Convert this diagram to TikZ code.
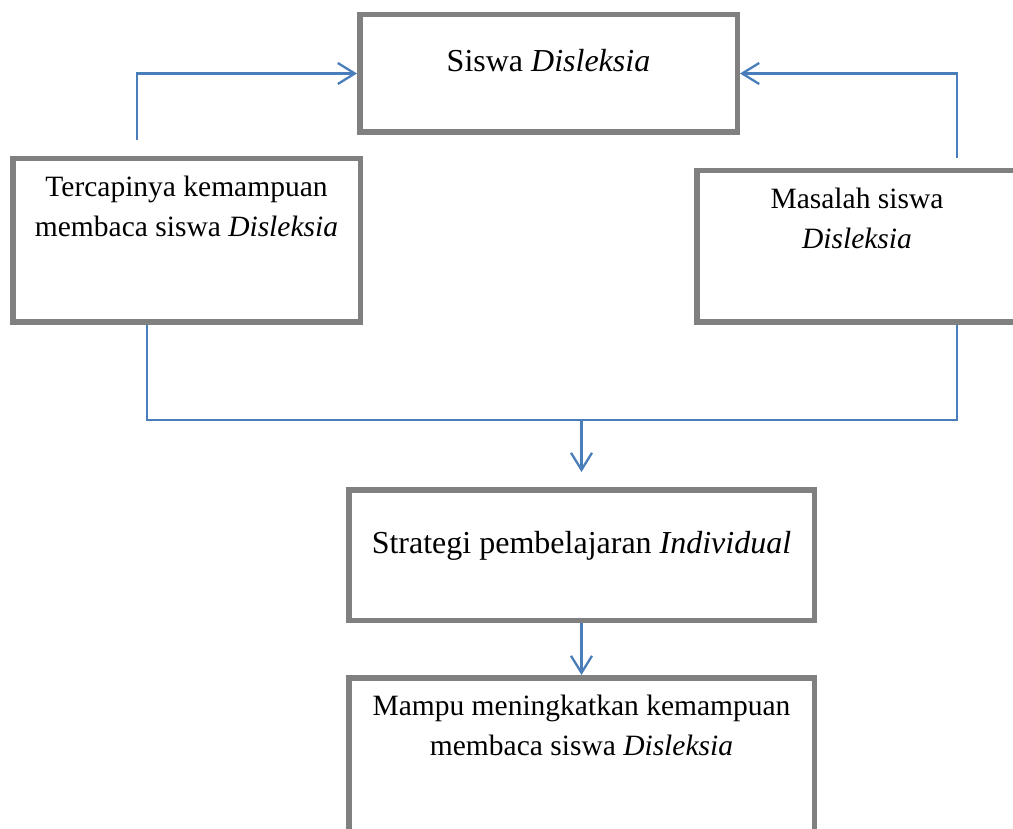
\documentclass[tikz,border=0pt]{standalone}
\usepackage{fontspec}
\setmainfont{Liberation Serif}
\usetikzlibrary{arrows.meta}
\definecolor{boxgray}{RGB}{128,128,128}
\definecolor{linkblue}{RGB}{74,126,187}
\begin{document}
\begin{tikzpicture}[x=1pt,y=-1pt,
  box/.style={draw=boxgray,line width=5.5pt,rectangle,inner sep=0pt,outer sep=2.75pt,fill=white},
  txt/.style={anchor=base,align=center,inner sep=0pt,font=\fontsize{32}{38}\selectfont},
  txtsm/.style={txt,font=\fontsize{29.5}{40}\selectfont},
  link/.style={draw=linkblue,line width=2.3pt},
  arr/.style={link,-{Straight Barb[length=17pt,width=21pt,line width=2.3pt]}}]
\useasboundingbox (0,0) rectangle (1013,829);
\clip (0,0) rectangle (1013,829);
% boxes
\node[box,minimum width=377.5pt,minimum height=117.5pt] (tb) at (548.5,73.5) {};
\node[box,minimum width=347.5pt,minimum height=163.5pt] (lb) at (186.5,240.5) {};
\node[box,minimum width=320.5pt,minimum height=151.5pt] (rb) at (857,246.5) {};
\node[box,minimum width=465.5pt,minimum height=130.5pt] (sb) at (581.5,555) {};
\node[box,minimum width=465.5pt,minimum height=244.5pt] (bb) at (581.5,800) {};
% texts (base anchor = baseline of last line)
\node[txt] (tbt) at (548.5,72) {Siswa \textit{Disleksia}};
\node[txtsm] (lbt) at (186.5,237) {Tercapinya kemampuan\\membaca siswa \textit{Disleksia}};
\node[txtsm] (rbt) at (857,249) {Masalah siswa\\\textit{Disleksia}};
\node[txt] (sbt) at (581.5,553) {Strategi pembelajaran \textit{Individual}};
\node[txtsm] (bbt) at (581.5,755) {Mampu meningkatkan kemampuan\\membaca siswa \textit{Disleksia}};
% connector end points
\coordinate (lbn) at ([xshift=127pt]lb.north west);
\coordinate (rbn) at ([xshift=263pt]rb.north west);
\coordinate (lbs) at ([xshift=137pt]lb.south west);
\coordinate (rbs) at ([xshift=263pt]rb.south west);
\coordinate (j) at (sb.north |- 0,420);
% connectors
\draw[arr,shorten <=16pt] (lbn) |- (tb.west);
\draw[arr,shorten <=10pt] (rbn) |- (tb.east);
\draw[link] (lbs) |- (j) -| (rbs);
\draw[arr,shorten >=15pt] (j) -- (sb.north);
\draw[arr] (sb.south) -- (bb.north);
\end{tikzpicture}
\end{document}
